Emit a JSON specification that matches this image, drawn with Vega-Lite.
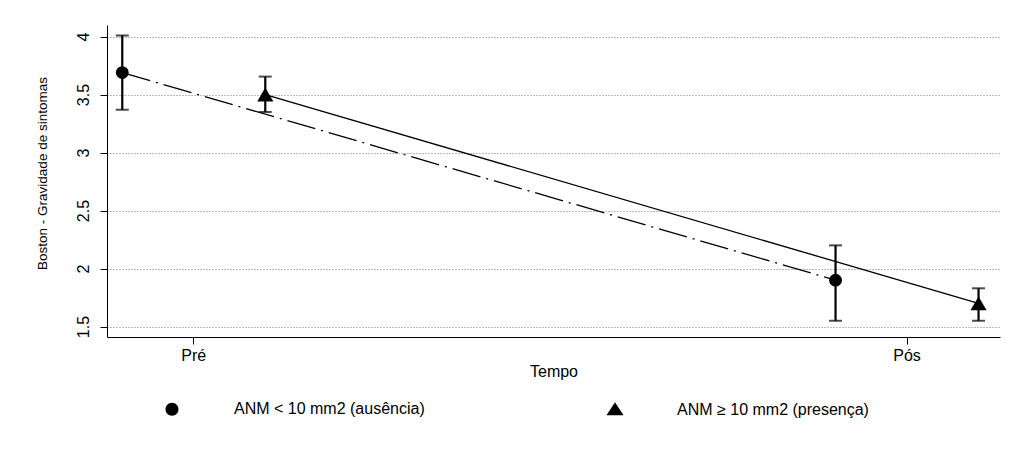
{
  "$schema": "https://vega.github.io/schema/vega-lite/v6.json",
  "width": 893,
  "height": 312,
  "autosize": {"type": "none"},
  "padding": {"left": 107, "top": 25, "right": 16, "bottom": 119},
  "background": "white",
  "config": {"font": "Liberation Sans", "view": {"stroke": null}},
  "data": {
    "values": [
      {"grupo": "ANM < 10 mm2 (ausência)", "tempo": "Pré", "media": 3.69, "lo": 3.37, "hi": 4.01},
      {"grupo": "ANM ≥ 10 mm2 (presença)", "tempo": "Pré", "media": 3.5, "lo": 3.35, "hi": 3.655},
      {"grupo": "ANM < 10 mm2 (ausência)", "tempo": "Pós", "media": 1.9, "lo": 1.55, "hi": 2.2},
      {"grupo": "ANM ≥ 10 mm2 (presença)", "tempo": "Pós", "media": 1.7, "lo": 1.55, "hi": 1.83}
    ]
  },
  "encoding": {
    "x": {
      "field": "tempo",
      "type": "nominal",
      "sort": ["Pré", "Pós"],
      "scale": {"type": "point", "padding": 0.126, "align": 0.48},
      "axis": {
        "title": "Tempo",
        "labelAngle": 0,
        "labelFontSize": 16,
        "titleFontSize": 16,
        "titleFontWeight": "normal",
        "tickSize": 7,
        "labelPadding": 3,
        "titlePadding": 0,
        "grid": false,
        "domainColor": "black",
        "tickColor": "black",
        "labelColor": "black",
        "titleColor": "black"
      }
    },
    "xOffset": {
      "field": "grupo",
      "type": "nominal",
      "sort": ["ANM < 10 mm2 (ausência)", "ANM ≥ 10 mm2 (presença)"],
      "scale": {"type": "point", "range": [-71, 72], "padding": 0}
    }
  },
  "layer": [
    {
      "transform": [{"filter": "datum.grupo === 'ANM < 10 mm2 (ausência)'"}],
      "mark": {"type": "line", "color": "black", "strokeWidth": 1.3, "strokeDash": [29, 6, 2, 6]},
      "encoding": {
        "y": {
          "field": "media",
          "type": "quantitative",
          "scale": {"domain": [1.41, 4.1], "nice": false, "zero": false},
          "axis": {
            "title": "Boston - Gravidade de sintomas",
            "values": [1.5, 2, 2.5, 3, 3.5, 4],
            "format": "~g",
            "grid": true,
            "gridColor": "#777",
            "gridDash": [1, 2],
            "gridWidth": 1,
            "domainColor": "black",
            "tickColor": "black",
            "tickSize": 7,
            "labelAngle": 270,
            "labelFontSize": 16,
            "labelAlign": "center",
            "labelBaseline": "bottom",
            "labelPadding": 9,
            "labelColor": "black",
            "labelFlush": false,
            "labelOverlap": false,
            "titleFontSize": 13.5,
            "titleFontWeight": "normal",
            "titleAngle": 270,
            "titleX": -65,
            "titleY": 148,
            "titleAlign": "center",
            "titleBaseline": "middle",
            "titleColor": "black"
          }
        }
      }
    },
    {
      "transform": [{"filter": "datum.grupo === 'ANM ≥ 10 mm2 (presença)'"}],
      "mark": {"type": "line", "color": "black", "strokeWidth": 1.3},
      "encoding": {"y": {"field": "media", "type": "quantitative"}}
    },
    {
      "mark": {"type": "rule", "color": "black", "strokeWidth": 2.2},
      "encoding": {
        "y": {"field": "lo", "type": "quantitative"},
        "y2": {"field": "hi"}
      }
    },
    {
      "mark": {"type": "tick", "color": "black", "thickness": 2, "size": 13, "orient": "horizontal"},
      "encoding": {"y": {"field": "lo", "type": "quantitative"}}
    },
    {
      "mark": {"type": "tick", "color": "black", "thickness": 2, "size": 13, "orient": "horizontal"},
      "encoding": {"y": {"field": "hi", "type": "quantitative"}}
    },
    {
      "mark": {"type": "point", "filled": true, "color": "black", "opacity": 1},
      "encoding": {
        "y": {"field": "media", "type": "quantitative"},
        "size": {"condition": {"test": "datum.grupo === 'ANM ≥ 10 mm2 (presença)'", "value": 260}, "value": 165},
        "shape": {"condition": {"test": "datum.grupo === 'ANM ≥ 10 mm2 (presença)'", "value": "triangle-up"}, "value": "circle"}
      }
    },
    {
      "transform": [{"filter": "false"}],
      "mark": {"type": "point", "filled": true, "fill": "black", "stroke": "black", "strokeWidth": 1.5},
      "encoding": {
        "y": {"field": "media", "type": "quantitative"},
        "shape": {
          "field": "grupo",
          "type": "nominal",
          "scale": {
            "domain": ["ANM < 10 mm2 (ausência)", "ANM ≥ 10 mm2 (presença)"],
            "range": ["M-9,0H9M1.3,0A1.3,1.3 0 1,1 -1.3,0A1.3,1.3 0 1,1 1.3,0Z", "M-9,0H9M0,-1.5L1.7,1.1L-1.7,1.1Z"]
          },
          "legend": {
            "orient": "none",
            "legendX": 17,
            "legendY": 376,
            "direction": "horizontal",
            "columns": 2,
            "title": null,
            "labelFontSize": 16,
            "labelColor": "black",
            "labelLimit": 400,
            "symbolSize": 100,
            "symbolOffset": 40,
            "labelOffset": 54,
            "columnPadding": 142,
            "symbolFillColor": "black",
            "symbolStrokeColor": "black",
            "symbolStrokeWidth": 1.5,
            "symbolOpacity": 1
          }
        }
      }
    }
  ]
}
